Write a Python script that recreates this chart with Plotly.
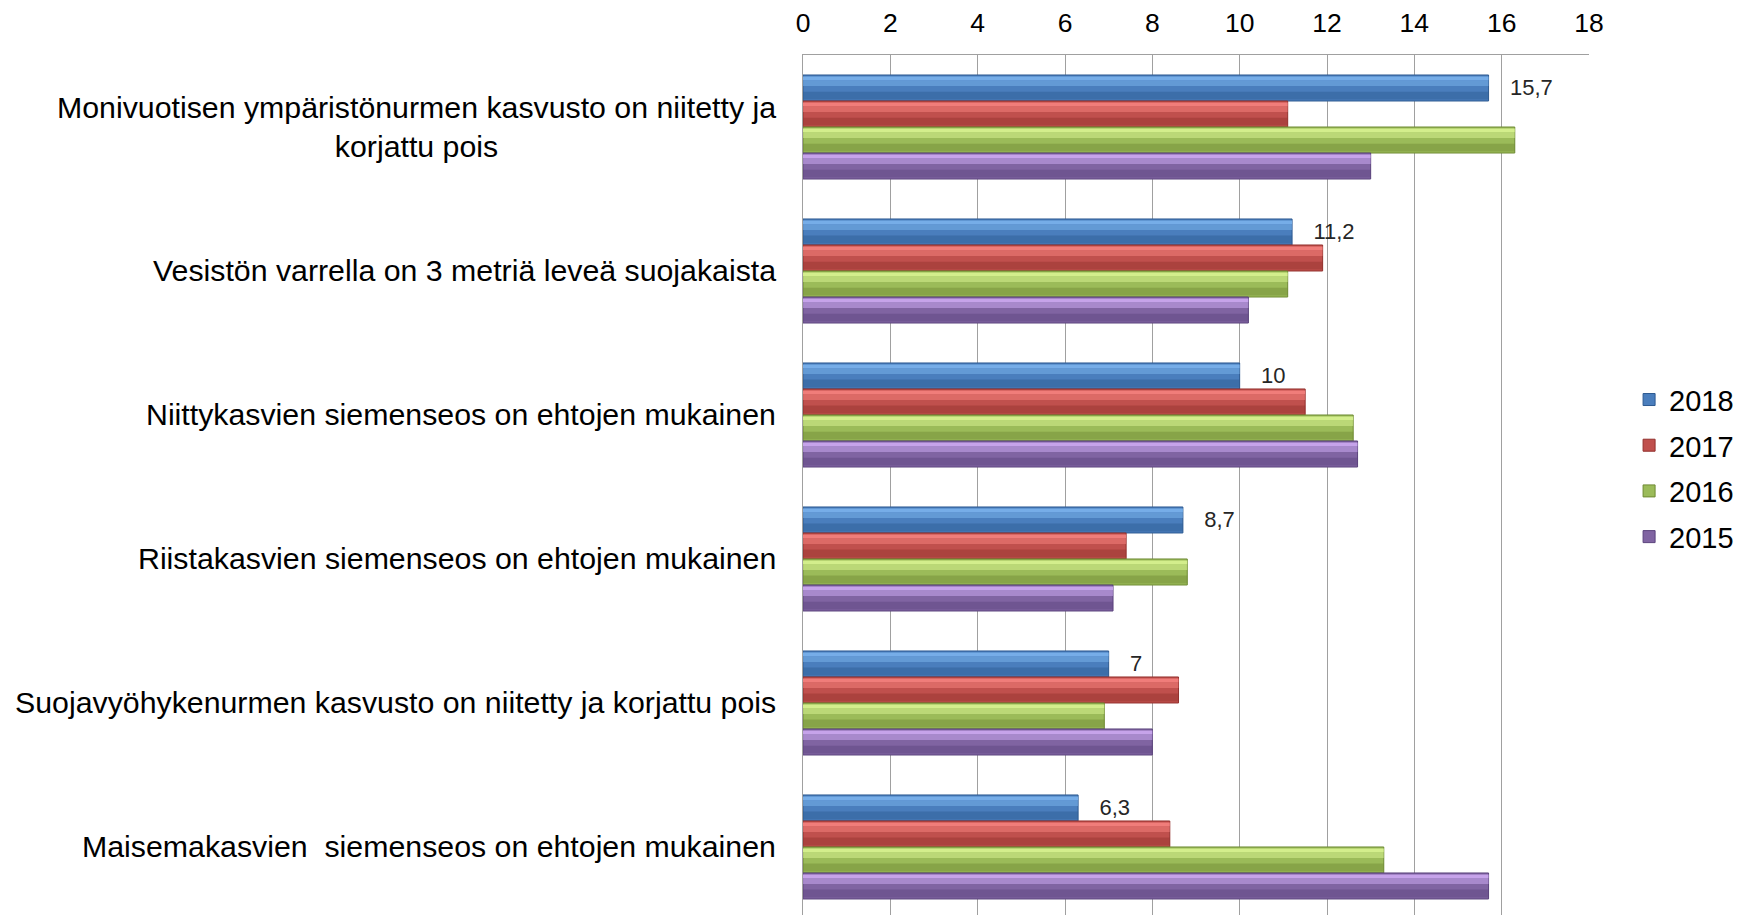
import plotly.graph_objects as go

categories = [
    "Monivuotisen ympäristönurmen kasvusto on niitetty ja<br>korjattu pois",
    "Vesistön varrella on 3 metriä leveä suojakaista",
    "Niittykasvien siemenseos on ehtojen mukainen",
    "Riistakasvien siemenseos on ehtojen mukainen",
    "Suojavyöhykenurmen kasvusto on niitetty ja korjattu pois",
    "Maisemakasvien  siemenseos on ehtojen mukainen",
]
years = ["2018", "2017", "2016", "2015"]
values_2018 = [15.7, 11.2, 10, 8.7, 7, 6.3]
values_2017 = [11.1, 11.9, 11.5, 7.4, 8.6, 8.4]
values_2016 = [16.3, 11.1, 12.6, 8.8, 6.9, 13.3]
values_2015 = [13.0, 10.2, 12.7, 7.1, 8.0, 15.7]
tick_values = [0, 2, 4, 6, 8, 10, 12, 14, 16, 18]

series = [values_2018, values_2017, values_2016, values_2015]
colors = [
    ("#78b0ea", "#4a7ebd", "#2d5a91"),
    ("#f27f7c", "#c0504d", "#93302d"),
    ("#d6f08f", "#9bbb59", "#6e8a33"),
    ("#c9a7ee", "#8064a2", "#5a427c"),
]

FONT = "Liberation Sans, Arial, sans-serif"
bar_w = 0.1806
group_start = -2 * bar_w

fig = go.Figure()
ycat = [c.replace("<br>", " ") for c in categories]

for i, (yr, vals, (light, mid, dark)) in enumerate(zip(years, series, colors)):
    off = group_start + i * bar_w
    text = None
    if yr == "2018":
        text = ["\u00a0\u00a0\u00a0" + f"{v:g}".replace(".", ",") for v in vals]
    fig.add_trace(go.Bar(
        name=yr, x=vals, y=ycat, orientation="h",
        width=bar_w, offset=off,
        marker=dict(color=mid, line=dict(color=dark, width=1)),
        text=text, textposition="outside" if text else None,
        textfont=dict(family=FONT, size=22, color="#262626"),
        cliponaxis=False,
        legendgroup=yr, showlegend=True, hoverinfo="skip",
    ))
    # highlight and shadow strips for a bevelled look
    fig.add_trace(go.Bar(
        x=vals, y=ycat, orientation="h",
        width=bar_w * 0.14, offset=off + bar_w * 0.06,
        marker=dict(color=light, opacity=0.95, line=dict(width=0)),
        legendgroup=yr, showlegend=False, hoverinfo="skip",
    ))
    fig.add_trace(go.Bar(
        x=vals, y=ycat, orientation="h",
        width=bar_w * 0.22, offset=off + bar_w * 0.20,
        marker=dict(color=light, opacity=0.55, line=dict(width=0)),
        legendgroup=yr, showlegend=False, hoverinfo="skip",
    ))
    fig.add_trace(go.Bar(
        x=vals, y=ycat, orientation="h",
        width=bar_w * 0.30, offset=off + bar_w * 0.64,
        marker=dict(color=dark, opacity=0.45, line=dict(width=0)),
        legendgroup=yr, showlegend=False, hoverinfo="skip",
    ))

for cat, yc in zip(categories, ycat):
    fig.add_annotation(
        x=0, xref="paper", y=yc, yref="y", text=cat, showarrow=False,
        xanchor="right", yanchor="middle", xshift=-25,
        align="center",
        font=dict(family=FONT, size=30.3, color="#000000"),
    )

fig.update_layout(
    width=1762, height=915,
    margin=dict(l=795, r=181, t=47, b=0, autoexpand=False),
    paper_bgcolor="white", plot_bgcolor="white",
    barmode="overlay",
    font=dict(family=FONT, color="#000000"),
    showlegend=True,
    legend=dict(
        x=1.051, xanchor="left", y=0.524, yanchor="middle",
        font=dict(family=FONT, size=29, color="#000000"),
        traceorder="grouped", tracegroupgap=5,
        itemwidth=30, bgcolor="rgba(0,0,0,0)",
    ),
    xaxis=dict(
        side="top", range=[0, 18], tickvals=tick_values, automargin=False,
        showgrid=True, gridcolor="#a0a0a0", gridwidth=1,
        showline=True, linecolor="#a0a0a0", linewidth=1,
        zeroline=False, ticks="", ticklabelstandoff=11,
        tickfont=dict(family=FONT, size=26.5, color="#000000"),
    ),
    yaxis=dict(
        type="category", categoryorder="array", categoryarray=ycat,
        range=[5.528, -0.5], showticklabels=False, showgrid=False,
        automargin=False,
        showline=True, linecolor="#a0a0a0", linewidth=1, zeroline=False,
        ticks="",
    ),
)

fig.write_html("out.html")
